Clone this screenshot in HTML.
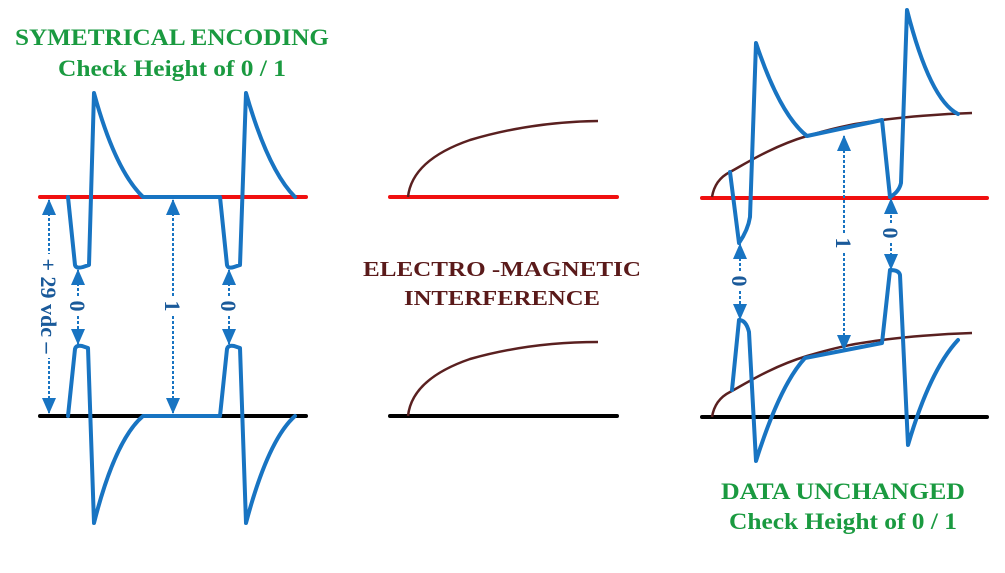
<!DOCTYPE html>
<html><head><meta charset="utf-8"><style>html,body{margin:0;padding:0;background:#fff}svg{display:block}text{font-family:"Liberation Serif",serif;font-weight:bold}</style></head><body>
<svg width="1005" height="573" viewBox="0 0 1005 573" xmlns="http://www.w3.org/2000/svg">
<defs>
<marker id="ah" markerWidth="16" markerHeight="16" refX="15" refY="7" orient="auto" markerUnits="userSpaceOnUse" viewBox="0 0 16 14"><path d="M0,0 L16,7 L0,14 z" fill="#1874c2"/></marker>
</defs>
<g fill="#1a9a40" text-anchor="middle" style="font-weight:bold">
<text x="172" y="45" font-size="23" textLength="314" lengthAdjust="spacingAndGlyphs">SYMETRICAL ENCODING</text>
<text x="172" y="76" font-size="23" textLength="228" lengthAdjust="spacingAndGlyphs">Check Height of 0 / 1</text>
<text x="843" y="499" font-size="23" textLength="244" lengthAdjust="spacingAndGlyphs">DATA UNCHANGED</text>
<text x="843" y="529" font-size="23" textLength="228" lengthAdjust="spacingAndGlyphs">Check Height of 0 / 1</text>
</g>
<g fill="#5a1a1a" text-anchor="middle" font-size="21" style="font-weight:bold">
<text x="502" y="276" textLength="278" lengthAdjust="spacingAndGlyphs">ELECTRO -MAGNETIC</text>
<text x="502" y="305" textLength="196" lengthAdjust="spacingAndGlyphs">INTERFERENCE</text>
</g>
<g stroke-width="4" stroke-linecap="round">
<line x1="40" y1="197" x2="306" y2="197" stroke="#f01010"/>
<line x1="40" y1="416" x2="306" y2="416" stroke="#000"/>
<line x1="390" y1="197" x2="617" y2="197" stroke="#f01010"/>
<line x1="390" y1="416" x2="617" y2="416" stroke="#000"/>
<line x1="702" y1="198" x2="987" y2="198" stroke="#f01010"/>
<line x1="702" y1="417" x2="987" y2="417" stroke="#000"/>
</g>
<g stroke="#5a2020" stroke-width="2.5" fill="none">
<path d="M408,197 Q412,160 470,140 Q530,122 598,121"/>
<path d="M408,416 Q412,379 470,359 Q530,342 598,342"/>
<path d="M712,197 C714,185 720,177 730,172 S770,147 807,136 S860,123 882,120 S940,114 972,113"/>
<path d="M712,417 C714,405 720,397 730,392 S770,367 807,356 S860,343 882,340 S940,334 972,333"/>
</g>
<g stroke="#1874c2" stroke-width="4" fill="none" stroke-linejoin="round" stroke-linecap="round">
<path d="M68,197 L75,265 Q76,269 83,267 L89,265 L94,93 Q115,170 143,197 L220,197 L227,265 Q228,269 234,267 L240,265 L246,93 Q268,170 295,197"/>
<path d="M68,416 L75,349 Q76,345 82,346 L88,348 L94,523 Q115,440 143,416 L220,416 L227,349 Q228,345 234,346 L240,348 L246,523 Q268,440 295,416"/>
<path d="M730,172 L739,243 Q748,230 750,217 L756,43 Q780,115 807,136 L882,120 L890,197 Q899,192 901,183 L907,10 Q930,100 958,114"/>
<path d="M732,390 L739,320 Q746,320 749,332 L756,461 Q780,385 805,358 L882,343 L890,270 Q899,270 900,275 L908,445 Q930,370 958,340"/>
</g>
<g stroke="#1874c2" stroke-width="2" stroke-dasharray="3,2" marker-end="url(#ah)">
<line x1="49" y1="306" x2="49" y2="200"/>
<line x1="49" y1="306" x2="49" y2="413"/>
<line x1="78" y1="306" x2="78" y2="270"/>
<line x1="78" y1="306" x2="78" y2="344"/>
<line x1="173" y1="306" x2="173" y2="200"/>
<line x1="173" y1="306" x2="173" y2="413"/>
<line x1="229" y1="306" x2="229" y2="270"/>
<line x1="229" y1="306" x2="229" y2="344"/>
<line x1="740" y1="281" x2="740" y2="244"/>
<line x1="740" y1="281" x2="740" y2="319"/>
<line x1="844" y1="243" x2="844" y2="136"/>
<line x1="844" y1="243" x2="844" y2="350"/>
<line x1="891" y1="233" x2="891" y2="199"/>
<line x1="891" y1="233" x2="891" y2="269"/>
</g>
<g fill="#1a5a9a" font-size="22" text-anchor="middle" style="font-weight:bold">
<g transform="translate(49,306) rotate(90)"><rect x="-52" y="-11" width="104" height="22" fill="#fff"/><text x="0" y="8">+ 29 vdc –</text></g>
<g transform="translate(78,306) rotate(90)"><rect x="-8" y="-9" width="16" height="18" fill="#fff"/><text x="0" y="8">0</text></g>
<g transform="translate(173,306) rotate(90)"><rect x="-8" y="-9" width="16" height="18" fill="#fff"/><text x="0" y="8">1</text></g>
<g transform="translate(229,306) rotate(90)"><rect x="-8" y="-9" width="16" height="18" fill="#fff"/><text x="0" y="8">0</text></g>
<g transform="translate(740,281) rotate(90)"><rect x="-8" y="-9" width="16" height="18" fill="#fff"/><text x="0" y="8">0</text></g>
<g transform="translate(844,243) rotate(90)"><rect x="-8" y="-9" width="16" height="18" fill="#fff"/><text x="0" y="8">1</text></g>
<g transform="translate(891,233) rotate(90)"><rect x="-8" y="-9" width="16" height="18" fill="#fff"/><text x="0" y="8">0</text></g>
</g>
</svg>
</body></html>
